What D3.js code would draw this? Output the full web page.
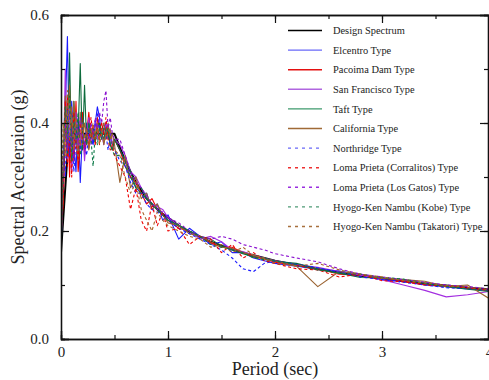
<!DOCTYPE html>
<html>
<head>
<meta charset="utf-8">
<script src="https://cdn.jsdelivr.net/npm/d3@7"></script>
<style>
  body { margin: 0; background: #fff; }
  text { font-family: "Liberation Serif", "Times New Roman", serif; fill: #222; }
</style>
</head>
<body>
<div id="chart"></div>
<script>
// --- Data: periods (sec) shared by every series ---
const periods = [0.00, 0.02, 0.04, 0.06, 0.08, 0.10, 0.12, 0.14, 0.16, 0.18,
  0.20, 0.22, 0.24, 0.26, 0.28, 0.30, 0.32, 0.34, 0.36, 0.38,
  0.40, 0.42, 0.44, 0.46, 0.48, 0.50, 0.55, 0.60, 0.65, 0.70,
  0.75, 0.80, 0.85, 0.90, 0.95, 1.0, 1.1, 1.2, 1.3, 1.4,
  1.5, 1.6, 1.7, 1.8, 1.9, 2.0, 2.2, 2.4, 2.6, 2.8,
  3.0, 3.2, 3.4, 3.6, 3.8, 4.0];

// spectral acceleration (g)
const designSpectrum = [0.16, 0.22, 0.28, 0.34, 0.37, 0.38, 0.38, 0.38, 0.38, 0.38,
  0.38, 0.38, 0.38, 0.38, 0.38, 0.38, 0.38, 0.38, 0.38, 0.38,
  0.38, 0.38, 0.38, 0.38, 0.38, 0.38, 0.355, 0.33, 0.31, 0.29,
  0.275, 0.26, 0.25, 0.24, 0.232, 0.225, 0.21, 0.199, 0.189, 0.18,
  0.173, 0.166, 0.16, 0.155, 0.15, 0.145, 0.137, 0.129, 0.123, 0.117,
  0.112, 0.107, 0.103, 0.099, 0.095, 0.092];

const elcentro = [0.17, 0.30, 0.42, 0.56, 0.33, 0.44, 0.36, 0.31, 0.41, 0.29,
  0.38, 0.35, 0.40, 0.37, 0.39, 0.36, 0.40, 0.43, 0.41, 0.37,
  0.39, 0.40, 0.37, 0.38, 0.36, 0.37, 0.35, 0.33, 0.30, 0.28,
  0.27, 0.27, 0.24, 0.25, 0.22, 0.23, 0.185, 0.205, 0.19, 0.175,
  0.18, 0.16, 0.16, 0.15, 0.145, 0.14, 0.135, 0.13, 0.126, 0.12,
  0.11, 0.107, 0.10, 0.097, 0.093, 0.09];

const pacoimaDam = [0.19, 0.25, 0.38, 0.45, 0.30, 0.40, 0.33, 0.44, 0.31, 0.36,
  0.42, 0.34, 0.38, 0.42, 0.37, 0.39, 0.36, 0.41, 0.39, 0.40,
  0.38, 0.37, 0.39, 0.36, 0.35, 0.37, 0.35, 0.32, 0.30, 0.29,
  0.27, 0.25, 0.26, 0.24, 0.23, 0.22, 0.205, 0.20, 0.19, 0.178,
  0.17, 0.17, 0.16, 0.152, 0.148, 0.142, 0.136, 0.13, 0.12, 0.118,
  0.113, 0.108, 0.101, 0.099, 0.094, 0.09];

const sanFrancisco = [0.16, 0.30, 0.50, 0.33, 0.44, 0.31, 0.39, 0.42, 0.34, 0.37,
  0.40, 0.33, 0.38, 0.41, 0.36, 0.38, 0.40, 0.37, 0.39, 0.38,
  0.36, 0.40, 0.38, 0.39, 0.36, 0.37, 0.36, 0.34, 0.31, 0.30,
  0.28, 0.26, 0.25, 0.245, 0.24, 0.225, 0.21, 0.20, 0.185, 0.19,
  0.18, 0.165, 0.162, 0.155, 0.15, 0.145, 0.138, 0.133, 0.125, 0.118,
  0.11, 0.10, 0.09, 0.078, 0.082, 0.088];

const taft = [0.16, 0.28, 0.40, 0.34, 0.53, 0.33, 0.44, 0.36, 0.38, 0.51,
  0.35, 0.47, 0.36, 0.40, 0.38, 0.39, 0.37, 0.39, 0.40, 0.38,
  0.37, 0.39, 0.38, 0.36, 0.35, 0.37, 0.35, 0.33, 0.31, 0.28,
  0.28, 0.26, 0.25, 0.24, 0.23, 0.22, 0.21, 0.20, 0.19, 0.185,
  0.172, 0.165, 0.158, 0.152, 0.15, 0.144, 0.14, 0.13, 0.122, 0.114,
  0.113, 0.11, 0.103, 0.097, 0.092, 0.088];

const california = [0.17, 0.33, 0.45, 0.38, 0.47, 0.34, 0.44, 0.39, 0.33, 0.42,
  0.36, 0.40, 0.38, 0.35, 0.39, 0.37, 0.38, 0.40, 0.37, 0.39,
  0.36, 0.38, 0.40, 0.37, 0.38, 0.36, 0.29, 0.34, 0.28, 0.30,
  0.26, 0.27, 0.24, 0.25, 0.23, 0.215, 0.21, 0.195, 0.19, 0.18,
  0.17, 0.168, 0.16, 0.155, 0.148, 0.145, 0.135, 0.097, 0.125, 0.12,
  0.112, 0.11, 0.107, 0.097, 0.10, 0.075];

const northridge = [0.18, 0.36, 0.30, 0.43, 0.34, 0.39, 0.31, 0.37, 0.41, 0.35,
  0.38, 0.36, 0.34, 0.39, 0.37, 0.36, 0.40, 0.42, 0.39, 0.37,
  0.40, 0.38, 0.35, 0.37, 0.36, 0.35, 0.33, 0.32, 0.29, 0.27,
  0.27, 0.25, 0.24, 0.235, 0.23, 0.22, 0.205, 0.195, 0.185, 0.175,
  0.165, 0.15, 0.13, 0.125, 0.14, 0.145, 0.138, 0.132, 0.124, 0.115,
  0.11, 0.105, 0.10, 0.095, 0.093, 0.09];

const corralitos = [0.19, 0.26, 0.44, 0.32, 0.38, 0.30, 0.42, 0.36, 0.33, 0.40,
  0.37, 0.35, 0.39, 0.36, 0.41, 0.38, 0.37, 0.39, 0.36, 0.40,
  0.38, 0.41, 0.37, 0.35, 0.36, 0.34, 0.32, 0.30, 0.24, 0.28,
  0.22, 0.20, 0.25, 0.21, 0.235, 0.20, 0.205, 0.175, 0.19, 0.185,
  0.16, 0.175, 0.15, 0.16, 0.145, 0.14, 0.13, 0.128, 0.115, 0.12,
  0.108, 0.106, 0.10, 0.098, 0.095, 0.09];

const losGatos = [0.17, 0.31, 0.40, 0.35, 0.42, 0.37, 0.33, 0.39, 0.36, 0.41,
  0.38, 0.35, 0.39, 0.37, 0.40, 0.38, 0.41, 0.39, 0.42, 0.40,
  0.44, 0.46, 0.39, 0.41, 0.38, 0.37, 0.37, 0.34, 0.31, 0.29,
  0.28, 0.265, 0.25, 0.24, 0.235, 0.225, 0.215, 0.20, 0.19, 0.185,
  0.19, 0.185, 0.175, 0.17, 0.165, 0.158, 0.15, 0.143, 0.13, 0.12,
  0.115, 0.11, 0.105, 0.10, 0.097, 0.093];

const kobe = [0.16, 0.35, 0.43, 0.38, 0.45, 0.33, 0.40, 0.37, 0.42, 0.34,
  0.36, 0.38, 0.36, 0.40, 0.37, 0.32, 0.38, 0.36, 0.39, 0.37,
  0.40, 0.38, 0.39, 0.36, 0.35, 0.34, 0.34, 0.32, 0.30, 0.28,
  0.27, 0.26, 0.25, 0.24, 0.23, 0.22, 0.21, 0.20, 0.19, 0.175,
  0.17, 0.165, 0.16, 0.15, 0.147, 0.145, 0.137, 0.128, 0.122, 0.12,
  0.114, 0.111, 0.103, 0.098, 0.093, 0.09];

const takatori = [0.18, 0.40, 0.34, 0.46, 0.37, 0.43, 0.35, 0.41, 0.38, 0.36,
  0.40, 0.37, 0.39, 0.35, 0.38, 0.40, 0.37, 0.39, 0.36, 0.38,
  0.40, 0.37, 0.38, 0.39, 0.36, 0.35, 0.34, 0.30, 0.27, 0.29,
  0.24, 0.22, 0.20, 0.235, 0.22, 0.21, 0.20, 0.19, 0.185, 0.17,
  0.175, 0.16, 0.17, 0.155, 0.15, 0.14, 0.135, 0.14, 0.128, 0.12,
  0.115, 0.108, 0.104, 0.099, 0.096, 0.092];

const seriesNames = ["Design Spectrum", "Elcentro Type", "Pacoima Dam Type", "San Francisco Type",
  "Taft Type", "California Type", "Northridge Type", "Loma Prieta (Corralitos) Type",
  "Loma Prieta (Los Gatos) Type", "Hyogo-Ken Nambu (Kobe) Type", "Hyogo-Ken Nambu (Takatori) Type"];
const seriesValues = [designSpectrum, elcentro, pacoimaDam, sanFrancisco, taft, california,
  northridge, corralitos, losGatos, kobe, takatori];

const xTicks = [0, 1, 2, 3, 4];
const yTicks = [0.0, 0.2, 0.4, 0.6];

// --- Styles per series ---
const colors = ["#000000", "#1a1aff", "#ee0000", "#a32ee0", "#0d6b3c", "#9a6230",
  "#1a1aff", "#ee0000", "#8a10d0", "#0d7a48", "#a8642a"];
const legendColors = ["#000000", "#6868f8", "#e41010", "#b066e0", "#3e9a6c", "#a06a36",
  "#6868f8", "#ee3030", "#9a2ee0", "#4e9a76", "#a8703e"];
const dashed = [false, false, false, false, false, false, true, true, true, true, true];

// plot sizes
const width = 489, height = 380;
const margin = { top: 15, right: 0, bottom: 41, left: 61 };
const plotW = width - margin.left - margin.right;
const plotH = height - margin.top - margin.bottom;

const svg = d3.select("#chart").append("svg")
  .attr("width", width)
  .attr("height", height);

// --- Scales ---
const x = d3.scaleLinear().domain([0, 4]).range([margin.left, margin.left + plotW]);
const y = d3.scaleLinear().domain([0, 0.6]).range([margin.top + plotH, margin.top]);

svg.append("clipPath").attr("id", "plot-clip")
  .append("rect")
  .attr("x", margin.left).attr("y", margin.top)
  .attr("width", plotW).attr("height", plotH);

// --- Lines ---
const line = d3.line()
  .x((d, i) => x(periods[i]))
  .y(d => y(d));

const lines = svg.append("g").attr("clip-path", "url(#plot-clip)");

// design spectrum goes underneath, the records are drawn over it
seriesValues.forEach((vals, k) => {
  lines.append("path")
    .datum(vals)
    .attr("fill", "none")
    .attr("stroke", colors[k])
    .attr("stroke-width", k === 0 ? 2 : 1.1)
    .attr("stroke-dasharray", dashed[k] ? "3,2.5" : null)
    .attr("stroke-linejoin", "round")
    .attr("d", line);
});

// --- Axes (ticks inward, mirrored on all four sides) ---
const xMinor = d3.range(0, 4.01, 0.5);
const yMinor = d3.range(0, 0.61, 0.1);

svg.append("g")
  .attr("transform", `translate(0,${margin.top + plotH})`)
  .call(d3.axisBottom(x).tickValues(xTicks).tickSize(-8).tickPadding(7).tickFormat(d3.format("d")));
svg.append("g")
  .attr("transform", `translate(0,${margin.top})`)
  .call(d3.axisTop(x).tickValues(xTicks).tickSize(-8).tickFormat(""));
svg.append("g")
  .attr("transform", `translate(${margin.left},0)`)
  .call(d3.axisLeft(y).tickValues(yTicks).tickSize(-8).tickPadding(12).tickFormat(d3.format(".1f")));
svg.append("g")
  .attr("transform", `translate(${margin.left + plotW - 1},0)`)
  .call(d3.axisRight(y).tickValues(yTicks).tickSize(-8).tickFormat(""));

// minor ticks
svg.append("g")
  .attr("transform", `translate(0,${margin.top + plotH})`)
  .call(d3.axisBottom(x).tickValues(xMinor).tickSize(-4).tickFormat(""));
svg.append("g")
  .attr("transform", `translate(0,${margin.top})`)
  .call(d3.axisTop(x).tickValues(xMinor).tickSize(-4).tickFormat(""));
svg.append("g")
  .attr("transform", `translate(${margin.left},0)`)
  .call(d3.axisLeft(y).tickValues(yMinor).tickSize(-4).tickFormat(""));
svg.append("g")
  .attr("transform", `translate(${margin.left + plotW - 1},0)`)
  .call(d3.axisRight(y).tickValues(yMinor).tickSize(-4).tickFormat(""));

svg.selectAll(".domain").attr("stroke", "#111").attr("stroke-width", 1.3);
svg.selectAll(".tick line").attr("stroke", "#111").attr("stroke-width", 1.2);
svg.selectAll(".tick text")
  .style("font-family", "'Liberation Serif', serif")
  .style("font-size", "15px")
  .attr("fill", "#222");

// --- Axis titles ---
svg.append("text")
  .attr("x", x(2))
  .attr("y", 375)
  .attr("text-anchor", "middle")
  .style("font-size", "18px")
  .text("Period (sec)");

svg.append("text")
  .attr("transform", `translate(24,${margin.top + plotH / 2}) rotate(-90)`)
  .attr("text-anchor", "middle")
  .style("font-size", "18px")
  .text("Spectral Acceleraion (g)");

// --- Legend ---
const legend = svg.append("g").attr("class", "legend");
const legendRow = d3.scaleLinear().domain([0, 10]).range([30.5, 226.5]);

seriesNames.forEach((name, i) => {
  const g = legend.append("g").attr("transform", `translate(0,${legendRow(i)})`);
  g.append("line")
    .attr("x1", 288).attr("x2", 322)
    .attr("stroke", legendColors[i])
    .attr("stroke-width", i === 0 ? 1.6 : 1.4)
    .attr("stroke-dasharray", dashed[i] ? "3,4" : null);
  g.append("text")
    .attr("x", 333)
    .attr("dy", "0.35em")
    .style("font-size", "10.4px")
    .text(name);
});
</script>
</body>
</html>
